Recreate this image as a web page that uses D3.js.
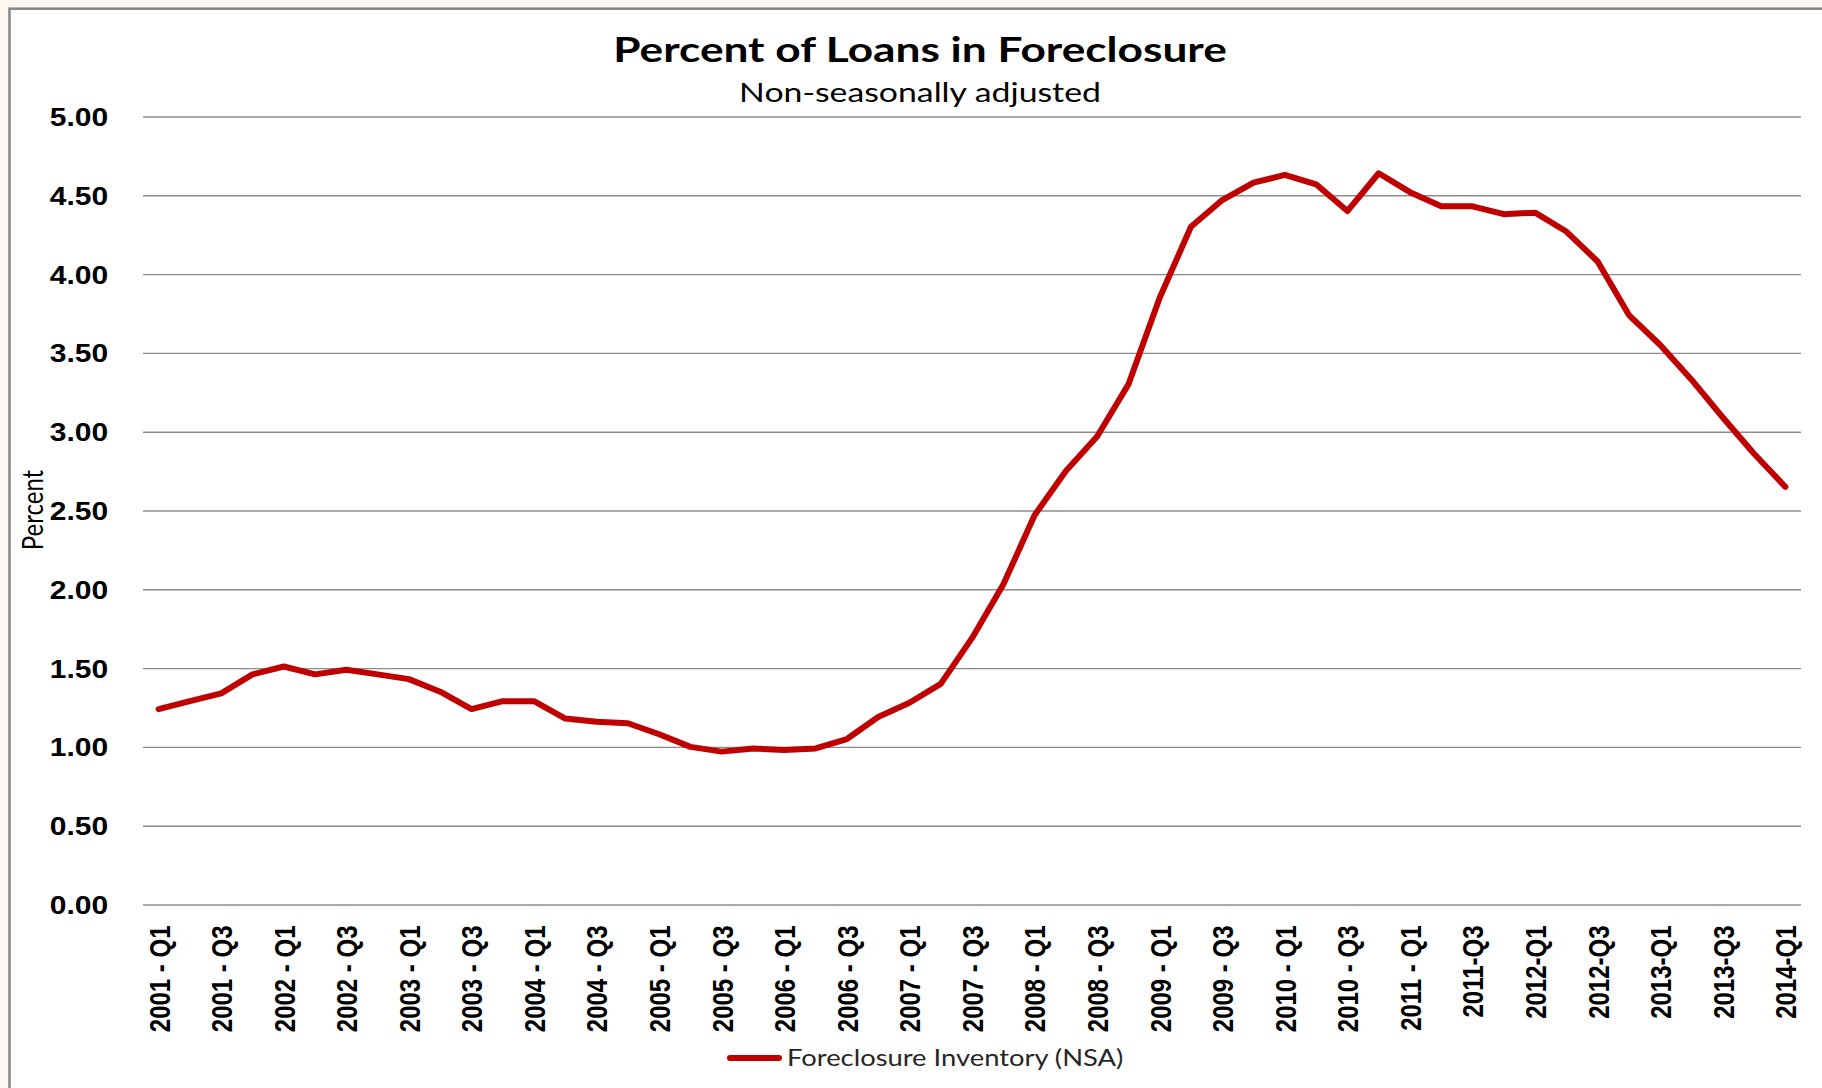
<!DOCTYPE html>
<html>
<head>
<meta charset="utf-8">
<script src="https://cdn.jsdelivr.net/npm/d3@7"></script>
<style>
  body { margin: 0; background: #fcf7f0; }
  svg { display: block; font-family: Lato, 'Open Sans', sans-serif; }
</style>
</head>
<body>
<svg id="canvas" width="1822" height="1088"></svg>
<script>
// quarters shown on the category axis
let quarters = [
  '2001-Q1','2001-Q2','2001-Q3','2001-Q4',
  '2002-Q1','2002-Q2','2002-Q3','2002-Q4',
  '2003-Q1','2003-Q2','2003-Q3','2003-Q4',
  '2004-Q1','2004-Q2','2004-Q3','2004-Q4',
  '2005-Q1','2005-Q2','2005-Q3','2005-Q4',
  '2006-Q1','2006-Q2','2006-Q3','2006-Q4',
  '2007-Q1','2007-Q2','2007-Q3','2007-Q4',
  '2008-Q1','2008-Q2','2008-Q3','2008-Q4',
  '2009-Q1','2009-Q2','2009-Q3','2009-Q4',
  '2010-Q1','2010-Q2','2010-Q3','2010-Q4',
  '2011-Q1','2011-Q2','2011-Q3','2011-Q4',
  '2012-Q1','2012-Q2','2012-Q3','2012-Q4',
  '2013-Q1','2013-Q2','2013-Q3','2013-Q4',
  '2014-Q1'
]
// Foreclosure Inventory (NSA), percent of loans
let foreclosure = [
  1.24, 1.29, 1.34, 1.46,
  1.51, 1.46, 1.49, 1.46,
  1.43, 1.35, 1.24, 1.29,
  1.29, 1.18, 1.16, 1.15,
  1.08, 1.00, 0.97, 0.99,
  0.98, 0.99, 1.05, 1.19,
  1.28, 1.40, 1.69, 2.03,
  2.47, 2.75, 2.97, 3.30,
  3.85, 4.30, 4.47, 4.58,
  4.63, 4.57, 4.40, 4.64,
  4.52, 4.43, 4.43, 4.38,
  4.39, 4.27, 4.08, 3.74,
  3.55, 3.33, 3.09, 2.86,
  2.65
]
// every other quarter gets a label, written as in the original
let tickLabels = [
  '2001 - Q1','2001 - Q3','2002 - Q1','2002 - Q3','2003 - Q1','2003 - Q3',
  '2004 - Q1','2004 - Q3','2005 - Q1','2005 - Q3','2006 - Q1','2006 - Q3',
  '2007 - Q1','2007 - Q3','2008 - Q1','2008 - Q3','2009 - Q1','2009 - Q3',
  '2010 - Q1','2010 - Q3','2011 - Q1','2011-Q3','2012-Q1','2012-Q3',
  '2013-Q1','2013-Q3','2014-Q1'
]
let yTicks = [0, 0.5, 1, 1.5, 2, 2.5, 3, 3.5, 4, 4.5, 5]

let canvas = d3.select('#canvas')
let stretch = 1.2   // the original image is a bit wider than tall

// chart frame (runs off the right and bottom edge like the source)
canvas.append('rect')
      .attr('x', 9.5).attr('y', 8.7)
      .attr('width', 1850).attr('height', 1100)
      .attr('fill', '#ffffff')
      .attr('stroke', '#858585')
      .attr('stroke-width', 2.5)

let xScale = d3.scalePoint()
               .domain(quarters)
               .range([143, 1801])
               .padding(0.5)

let yScale = d3.scaleLinear()
               .domain([0, 5])
               .range([904.5, 116.5])

// gridlines + y labels
let yAxis = d3.axisLeft(yScale)
              .tickValues(yTicks)
              .tickSize(-(1801 - 143))
              .tickFormat(d3.format('.2f'))

let yG = canvas.append('g')
               .attr('transform', 'translate(143,0)')
               .call(yAxis)
yG.select('.domain').remove()
yG.selectAll('.tick line')
  .attr('stroke', '#8c8c8c')
  .attr('stroke-width', 1.4)
yG.selectAll('.tick text')
  .attr('x', -29)
  .attr('dy', '0.36em')
  .attr('transform', `scale(${stretch},1)`)
  .attr('font-size', 25)
  .attr('font-weight', 'bold')
  .attr('fill', '#000')

// category labels, rotated
let labelQuarters = quarters.filter((q, i) => i % 2 === 0)
let xAxis = d3.axisBottom(xScale)
              .tickValues(labelQuarters)
              .tickSize(0)
              .tickFormat((q, i) => tickLabels[i])

let xG = canvas.append('g')
               .attr('transform', 'translate(0,904.5)')
               .call(xAxis)
xG.select('.domain').remove()
xG.selectAll('.tick text')
  .attr('x', -21)
  .attr('y', 0)
  .attr('dy', '0.36em')
  .attr('text-anchor', 'end')
  .attr('transform', `scale(${stretch},1) rotate(-90)`)
  .attr('font-size', 24)
  .attr('font-weight', 'bold')
  .attr('fill', '#000')

// the series
let line = d3.line()
             .x((d, i) => xScale(quarters[i]))
             .y(d => yScale(d))

canvas.append('path')
      .datum(foreclosure)
      .attr('d', line)
      .attr('fill', 'none')
      .attr('stroke', '#c00000')
      .attr('stroke-width', 6)
      .attr('stroke-linejoin', 'round')
      .attr('stroke-linecap', 'round')

// titles
let title = canvas.append('g').attr('transform', 'translate(920,62) scale(1.3,1)')
title.append('text')
     .attr('text-anchor', 'middle')
     .attr('font-size', 34)
     .attr('font-weight', 'bold')
     .attr('fill', '#000')
     .text('Percent of Loans in Foreclosure')

let subtitle = canvas.append('g').attr('transform', 'translate(920,102) scale(1.3,1)')
subtitle.append('text')
        .attr('text-anchor', 'middle')
        .attr('font-size', 26)
        .attr('fill', '#000')
        .text('Non-seasonally adjusted')

// y axis title
canvas.append('g')
      .attr('transform', `translate(43,510) scale(${stretch},1) rotate(-90)`)
      .append('text')
      .attr('text-anchor', 'middle')
      .attr('font-size', 24)
      .attr('fill', '#000')
      .text('Percent')

// legend
let legend = canvas.append('g').attr('transform', 'translate(727,1058)')
legend.append('line')
      .attr('x1', 3).attr('x2', 52)
      .attr('y1', 0).attr('y2', 0)
      .attr('stroke', '#c00000')
      .attr('stroke-width', 6)
      .attr('stroke-linecap', 'round')
legend.append('g')
      .attr('transform', `translate(60,8) scale(${stretch},1)`)
      .append('text')
      .attr('font-size', 22.8)
      .attr('fill', '#262626')
      .text('Foreclosure Inventory (NSA)')
</script>
</body>
</html>
